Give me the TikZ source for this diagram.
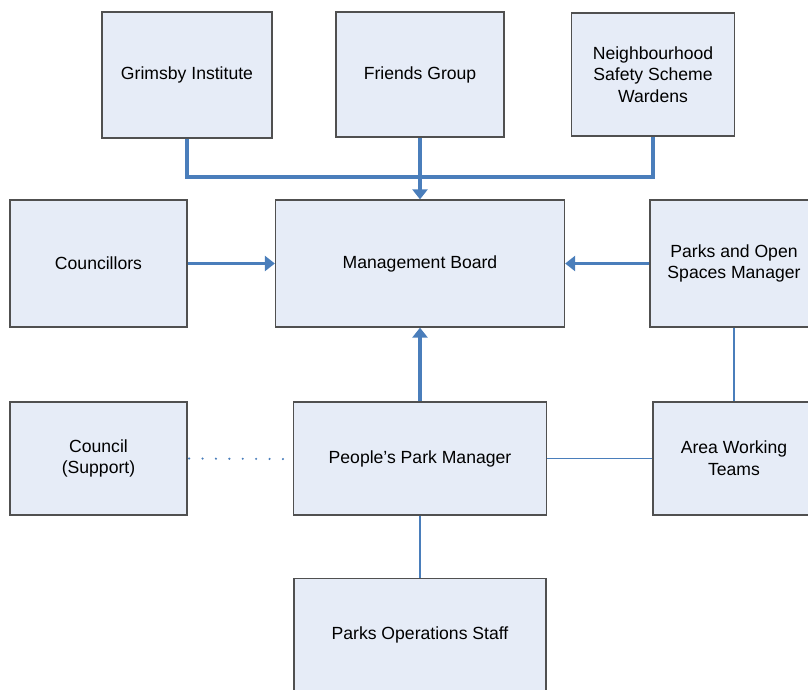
\documentclass[tikz,border=0pt]{standalone}
\usepackage{fontspec}
\setmainfont{Liberation Sans}
\usetikzlibrary{arrows.meta}
\definecolor{boxfill}{RGB}{230,236,247}
\definecolor{boxline}{RGB}{80,80,80}
\definecolor{conn}{RGB}{74,126,187}
\tikzset{
  orgbox/.style={draw=boxline, line width=1.3pt, fill=boxfill, align=center, inner sep=0pt,
    font=\fontsize{17.6}{21.7}\selectfont},
  thickconn/.style={draw=conn, line width=3.2pt},
  arrowconn/.style={thickconn, -{Triangle[length=10pt,width=15pt]}},
  thinconn/.style={draw=conn, line width=1.6pt},
  dotconn/.style={draw=conn, line width=2.4pt, line cap=round, dash pattern=on 0pt off 13.4pt}
}
\begin{document}
\begin{tikzpicture}[x=1pt,y=-1pt]
\useasboundingbox (0,0) rectangle (808,689);
\node[orgbox, minimum width=170pt, minimum height=126pt] (grim) at (187,75) {Grimsby Institute};
\node[orgbox, minimum width=168pt, minimum height=125pt] (friends) at (420,74.5) {Friends Group};
\node[orgbox, minimum width=163pt, minimum height=123pt] (neigh) at (653,74.5) {Neighbourhood\\Safety Scheme\\Wardens};
\node[orgbox, minimum width=177pt, minimum height=127pt] (counc) at (98.5,263.5) {Councillors};
\node[orgbox, minimum width=289pt, minimum height=127pt] (mb) at (420,263.5) {Management Board};
\node[orgbox, minimum width=168pt, minimum height=127pt] (parks) at (734,263.5) {Parks and Open\\Spaces Manager};
\node[orgbox, minimum width=177pt, minimum height=113pt] (council) at (98.5,458.5) {Council\\(Support)};
\node[orgbox, minimum width=253pt, minimum height=113pt] (people) at (420,458.5) {People’s Park Manager};
\node[orgbox, minimum width=162pt, minimum height=113pt] (area) at (734,458.5) {Area Working\\Teams};
\node[orgbox, minimum width=252pt, minimum height=113pt] (ops) at (420,635) {Parks Operations Staff};
\coordinate (jl) at (187,177);
\coordinate (jr) at (653,177);
\coordinate (dotend) at (283,459);
\draw[thickconn] (grim.south) -- (jl) -- (jr) -- (neigh.south);
\draw[arrowconn] (friends.south) -- (mb.north);
\draw[arrowconn] (counc.east) -- (mb.west);
\draw[arrowconn] (parks.west) -- (mb.east);
\draw[arrowconn] (people.north) -- (mb.south);
\draw[thinconn] (parks.south) -- (area.north);
\draw[thinconn] (people.east) -- (area.west);
\draw[thinconn] (people.south) -- (ops.north);
\draw[dotconn] ([xshift=1.5pt]council.east) -- (dotend);
\end{tikzpicture}
\end{document}
